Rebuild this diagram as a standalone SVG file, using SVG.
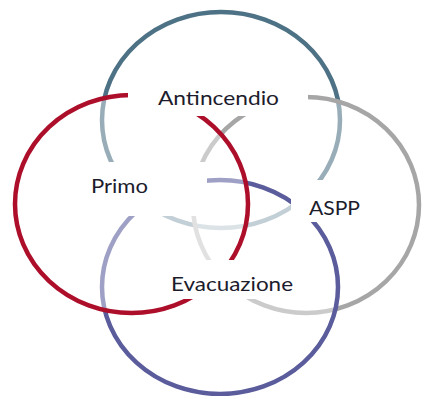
<svg xmlns="http://www.w3.org/2000/svg" width="422" height="396" viewBox="0 0 422 396">
  <style>
    .ring { fill: #ffffff; fill-opacity: 0.42; stroke-width: 4.5; }
    .box { fill: #ffffff; stroke: none; }
    .lbl { font-family: Lato, "Open Sans", "Liberation Sans", sans-serif; font-size: 20px; fill: #1c1c2c; text-anchor: middle; }
  </style>
  <rect x="0" y="0" width="422" height="396" fill="#ffffff"/>
  <g id="rings">
    <g id="node-antincendio">
      <ellipse class="ring" cx="221" cy="120" rx="119" ry="108" stroke="#4e7285"/>
    </g>
    <g id="node-aspp">
      <ellipse class="ring" cx="306" cy="205" rx="113" ry="108" stroke="#a6a6a6"/>
    </g>
    <g id="node-evacuazione">
      <ellipse class="ring" cx="220" cy="287" rx="118" ry="107" stroke="#5b5c9c"/>
    </g>
    <g id="node-primo">
      <ellipse class="ring" cx="131.5" cy="204" rx="116.5" ry="109" stroke="#ad0f2b"/>
    </g>
  </g>
  <g id="connectors"></g>
  <g id="labels">
    <g id="label-antincendio">
      <rect class="box" x="128" y="78" width="180" height="38"/>
      <text class="lbl" x="218.5" y="105" textLength="121" lengthAdjust="spacingAndGlyphs">Antincendio</text>
    </g>
    <g id="label-primo">
      <rect class="box" x="40" y="162" width="167" height="54"/>
      <text class="lbl" x="119.5" y="193" textLength="57" lengthAdjust="spacingAndGlyphs">Primo</text>
    </g>
    <g id="label-aspp">
      <rect class="box" x="291" y="180" width="89" height="42"/>
      <text class="lbl" x="334.5" y="215" textLength="51" lengthAdjust="spacingAndGlyphs">ASPP</text>
    </g>
    <g id="label-evacuazione">
      <rect class="box" x="142" y="260" width="180" height="39"/>
      <text class="lbl" x="232" y="291" textLength="122" lengthAdjust="spacingAndGlyphs">Evacuazione</text>
    </g>
  </g>
</svg>
